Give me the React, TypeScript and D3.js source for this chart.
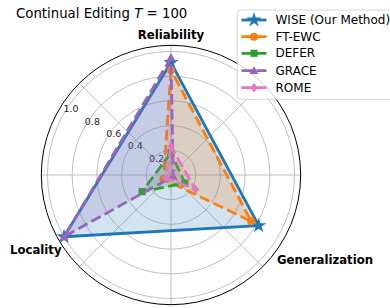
import React from "react";
import * as d3 from "d3";

const categories = ["Reliability", "Locality", "Generalization"];
const categoryAngles = [90, 210, 330];
const seriesNames = ["WISE (Our Method)", "FT-EWC", "DEFER", "GRACE", "ROME"];
const wise = [0.91, 1.0, 0.82];
const ftEwc = [0.85, 0.07, 0.75];
const defer = [0.18, 0.27, 0.13];
const grace = [0.95, 1.0, 0.02];
const rome = [0.23, 0.05, 0.23];
const seriesValues = [wise, ftEwc, defer, grace, rome];
const seriesColors = ["#1f77b4", "#ff7f0e", "#2ca02c", "#9467bd", "#e377c2"];
const seriesMarkers = ["star", "circle", "square", "triangle", "diamond"];
const seriesDashed = [false, true, true, true, true];
const radialTicks = [0.2, 0.4, 0.6, 0.8, 1.0];
const gridAngles = [0, 45, 90, 135, 180, 225, 270, 315];

const W = 390, H = 308;
const cx = 171, cy = 175;
const rScale = d3.scaleLinear().domain([0, 1.05]).range([0, 129.7]);
const FONT = "DejaVu Sans";

function pt(angleDeg: number, v: number): [number, number] {
  const a = (angleDeg * Math.PI) / 180;
  const r = rScale(v);
  return [cx + r * Math.cos(a), cy - r * Math.sin(a)];
}

function markerPath(kind: string, s: number): string {
  if (kind === "star") {
    const outer = s, inner = s * 0.381966;
    const pts: string[] = [];
    for (let i = 0; i < 10; i++) {
      const a = -Math.PI / 2 + (i * Math.PI) / 5;
      const r = i % 2 === 0 ? outer : inner;
      pts.push(`${r * Math.cos(a)},${r * Math.sin(a)}`);
    }
    return "M" + pts.join("L") + "Z";
  }
  if (kind === "circle") {
    const r = s * 0.62;
    return `M${-r},0A${r},${r} 0 1,0 ${r},0A${r},${r} 0 1,0 ${-r},0Z`;
  }
  if (kind === "square") {
    const h = s * 0.55;
    return `M${-h},${-h}L${h},${-h}L${h},${h}L${-h},${h}Z`;
  }
  if (kind === "triangle") {
    const h = s * 0.7;
    return `M0,${-h}L${h},${h * 0.75}L${-h},${h * 0.75}Z`;
  }
  const h = s * 0.72;
  return `M0,${-h}L${h * 0.75},0L0,${h}L${-h * 0.75},0Z`;
}

export default function App() {
  const line = d3.line<[number, number]>().curve(d3.curveLinearClosed);
  const rmax = rScale.range()[1];
  const legendRows = [20, 36.7, 53.3, 70.7, 87.7];
  const mSize = (i: number) => (i === 0 ? 8 : 6.5);
  return (
    <svg width={W} height={H} style={{ position: "absolute", left: 0, top: 0, fontFamily: FONT }}>
      <rect width={W} height={H} fill="#fff" />
      <text x={16} y={18} fontSize={13.3} fill="#000">
        Continual Editing <tspan fontStyle="italic">T</tspan>
        <tspan> = 100</tspan>
      </text>
      {radialTicks.map((t) => (
        <circle key={t} cx={cx} cy={cy} r={rScale(t)} fill="none" stroke="#b0b0b0" strokeWidth={0.8} />
      ))}
      {gridAngles.map((a) => {
        const [x, y] = pt(a, 1.05);
        return <line key={a} x1={cx} y1={cy} x2={x} y2={y} stroke="#b0b0b0" strokeWidth={0.8} />;
      })}
      <circle cx={cx} cy={cy} r={rmax} fill="none" stroke="#000" strokeWidth={1} />
      {radialTicks.map((t) => {
        const [x, y] = pt(150, t);
        return (
          <text key={t} x={x + 7} y={y - 4.3} fontSize={9.5} textAnchor="middle" dominantBaseline="central" fill="#262626">
            {t.toFixed(1)}
          </text>
        );
      })}
      {seriesValues.map((vals, i) => {
        const pts = vals.map((v, k) => pt(categoryAngles[k], v));
        return (
          <g key={seriesNames[i]}>
            <path d={line(pts) || ""} fill={seriesColors[i]} fillOpacity={0.2} stroke="none" />
            <path
              d={line(pts) || ""}
              fill="none"
              stroke={seriesColors[i]}
              strokeWidth={2.8}
              strokeDasharray={seriesDashed[i] ? "10.5,4.5" : undefined}
              strokeLinejoin="round"
            />
            {pts.map(([x, y], k) => (
              <path key={k} d={markerPath(seriesMarkers[i], mSize(i))} transform={`translate(${x},${y})`} fill={seriesColors[i]} />
            ))}
          </g>
        );
      })}
      <text x={171} y={35} fontSize={11.7} fontWeight="bold" textAnchor="middle" dominantBaseline="central">
        {categories[0]}
      </text>
      <text x={10} y={250} fontSize={11.7} fontWeight="bold" textAnchor="start" dominantBaseline="central">
        {categories[1]}
      </text>
      <text x={277} y={260} fontSize={11.7} fontWeight="bold" textAnchor="start" dominantBaseline="central">
        {categories[2]}
      </text>
      <rect x={237.3} y={10} width={160} height={89.3} rx={3} fill="#fff" fillOpacity={0.8} stroke="#cccccc" strokeWidth={0.8} />
      {seriesNames.map((n, i) => (
        <g key={n}>
          <line
            x1={241.5}
            x2={266.5}
            y1={legendRows[i]}
            y2={legendRows[i]}
            stroke={seriesColors[i]}
            strokeWidth={2.8}
            strokeDasharray={seriesDashed[i] ? "10.5,4.5" : undefined}
          />
          <path d={markerPath(seriesMarkers[i], mSize(i))} transform={`translate(254,${legendRows[i]})`} fill={seriesColors[i]} />
          <text x={275.5} y={legendRows[i]} fontSize={12} dominantBaseline="central" fill="#000">
            {n}
          </text>
        </g>
      ))}
    </svg>
  );
}
